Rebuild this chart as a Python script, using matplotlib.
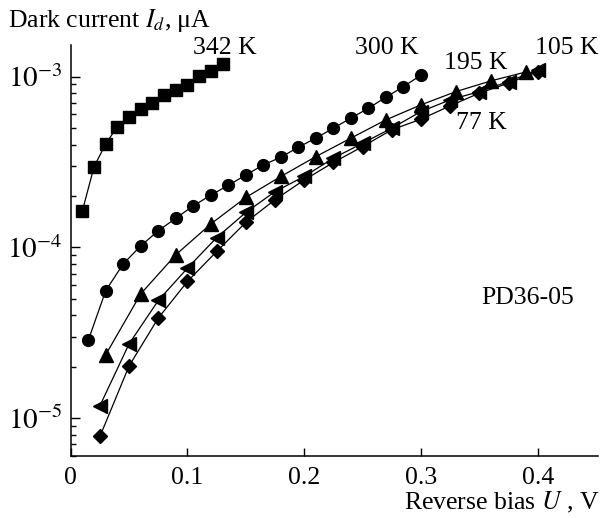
import matplotlib
matplotlib.use("Agg")
import matplotlib.pyplot as plt
from matplotlib.ticker import LogLocator, NullFormatter

# dark current vs reverse bias for several temperatures
u_342 = [0.01, 0.02, 0.03, 0.04, 0.05, 0.06, 0.07, 0.08, 0.09, 0.10, 0.11, 0.12, 0.13]
i_342 = [1.64e-4, 2.97e-4, 4.04e-4, 5.10e-4, 5.83e-4, 6.44e-4, 6.99e-4, 7.78e-4,
         8.36e-4, 8.98e-4, 1.01e-3, 1.08e-3, 1.18e-3]

u_300 = [0.015, 0.03, 0.045, 0.06, 0.075, 0.09, 0.105, 0.12, 0.135, 0.15,
         0.165, 0.18, 0.195, 0.21, 0.225, 0.24, 0.255, 0.27, 0.285, 0.30]
i_300 = [2.85e-5, 5.58e-5, 8.0e-5, 1.02e-4, 1.25e-4, 1.48e-4, 1.75e-4, 2.02e-4,
         2.31e-4, 2.65e-4, 3.04e-4, 3.37e-4, 3.86e-4, 4.36e-4, 4.99e-4, 5.71e-4,
         6.53e-4, 7.57e-4, 8.74e-4, 1.02e-3]

u_195 = [0.03, 0.06, 0.09, 0.12, 0.15, 0.18, 0.21, 0.24, 0.27, 0.30, 0.33, 0.36, 0.39]
i_195 = [2.35e-5, 5.34e-5, 9.04e-5, 1.37e-4, 1.96e-4, 2.60e-4, 3.40e-4, 4.36e-4,
         5.58e-4, 6.83e-4, 8.17e-4, 9.44e-4, 1.065e-3]

u_105 = [0.025, 0.05, 0.075, 0.10, 0.125, 0.15, 0.175, 0.20, 0.225, 0.25,
         0.275, 0.30, 0.325, 0.35, 0.375, 0.40]
i_105 = [1.18e-5, 2.72e-5, 4.88e-5, 7.55e-5, 1.14e-4, 1.60e-4, 2.12e-4, 2.60e-4,
         3.33e-4, 4.07e-4, 4.99e-4, 6.24e-4, 7.31e-4, 8.17e-4, 9.35e-4, 1.094e-3]

u_77 = [0.025, 0.05, 0.075, 0.10, 0.125, 0.15, 0.175, 0.20, 0.225, 0.25,
        0.275, 0.30, 0.325, 0.35, 0.375, 0.40]
i_77 = [7.8e-6, 2.02e-5, 3.85e-5, 6.31e-5, 9.45e-5, 1.40e-4, 1.90e-4, 2.48e-4,
        3.14e-4, 3.89e-4, 4.88e-4, 5.63e-4, 6.74e-4, 8.0e-4, 9.15e-4, 1.07e-3]

x_ticks = [0, 0.1, 0.2, 0.3, 0.4]
x_tick_labels = ["0", "0.1", "0.2", "0.3", "0.4"]
y_ticks = [1e-5, 1e-4, 1e-3]
y_tick_labels = [r"$10^{-5}$", r"$10^{-4}$", r"$10^{-3}$"]

plt.rcParams["font.family"] = ["Liberation Serif", "DejaVu Serif"]
plt.rcParams["mathtext.fontset"] = "stix"
plt.rcParams["font.size"] = 18.5

fig = plt.figure(figsize=(6.1, 5.18), dpi=100)
ax = fig.add_axes([0.116, 0.12, 0.865, 0.793])

style = dict(color="black", lw=0.9)
ax.plot(u_342, i_342, marker="s", ms=8, **style)
ax.plot(u_300, i_300, marker="o", ms=8.5, **style)
ax.plot(u_195, i_195, marker="^", ms=9.5, **style)
ax.plot(u_105, i_105, marker="<", ms=9.5, **style)
ax.plot(u_77, i_77, marker="D", ms=7.2, **style)

ax.set_yscale("log")
ax.set_xlim(0, 0.452)
ax.set_ylim(6.0e-6, 1.53e-3)

ax.set_xticks(x_ticks)
ax.set_xticklabels(x_tick_labels)
ax.set_yticks(y_ticks)
ax.set_yticklabels(y_tick_labels, fontsize=21)
ax.yaxis.set_minor_locator(LogLocator(base=10, subs=range(2, 10)))
ax.yaxis.set_minor_formatter(NullFormatter())

ax.tick_params(axis="x", which="both", direction="in", length=6, width=1, pad=8)
ax.tick_params(axis="y", which="major", direction="in", length=6.5, width=1, pad=6)
ax.tick_params(axis="y", which="minor", direction="in", length=3.6, width=1)

for side in ["top", "right"]:
    ax.spines[side].set_visible(False)
for side in ["left", "bottom"]:
    ax.spines[side].set_linewidth(1.1)

# temperature labels
ax.text(0.132, 1.47e-3, "342 K", ha="center", va="center")
ax.text(0.271, 1.47e-3, "300 K", ha="center", va="center")
ax.text(0.347, 1.20e-3, "195 K", ha="center", va="center")
ax.text(0.425, 1.47e-3, "105 K", ha="center", va="center")
ax.text(0.352, 5.36e-4, "77 K", ha="center", va="center")
ax.text(0.391, 5.06e-5, "PD36-05", ha="center", va="center")

fig.text(0.013, 1 - 21 / 518, r"Dark current $I_d$, μA", ha="left", va="center")
fig.text(600 / 610, 1 - 502 / 518, r"Reverse bias $U$ , V", ha="right", va="center")

fig.savefig("out.png", dpi=100)
